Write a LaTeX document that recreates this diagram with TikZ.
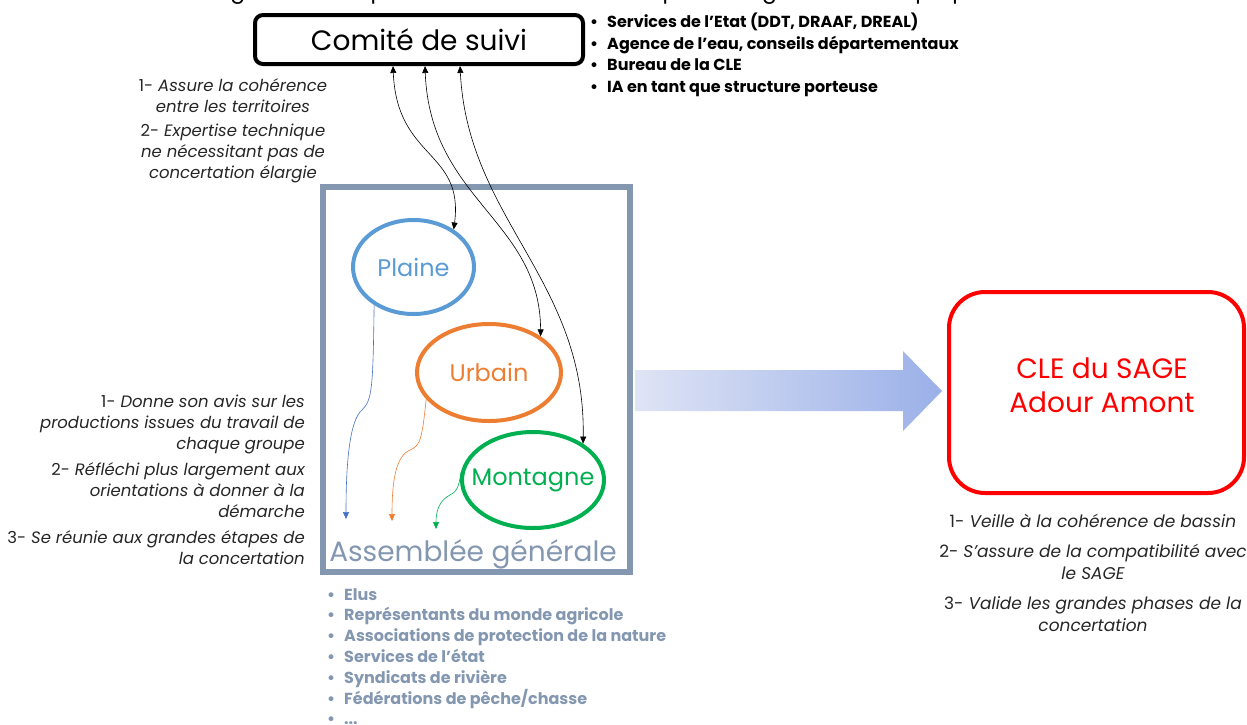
\documentclass[tikz,border=0pt]{standalone}
\usepackage{fontspec}
\setmainfont{Poppins}
\usetikzlibrary{calc,arrows.meta,shapes.geometric}
\definecolor{agblue}{HTML}{8497B0}
\definecolor{plblue}{HTML}{5B9BD5}
\definecolor{plarrow}{HTML}{4472C4}
\definecolor{urorange}{HTML}{ED7D31}
\definecolor{mogreen}{HTML}{00B050}
\definecolor{clered}{HTML}{FF0000}
\definecolor{notegray}{HTML}{262626}
\definecolor{grleft}{HTML}{DFE4F5}
\definecolor{grright}{HTML}{9AB0E8}
\tikzset{
  tip/.style={-{Triangle[length=7pt,width=6pt]}},
  dtip/.style={{Triangle[length=7pt,width=6pt]}-{Triangle[length=7pt,width=6pt]}},
  groupe/.style={ellipse,draw,line width=4pt,inner sep=0pt},
  grouplbl/.style={inner sep=0pt,font=\fontsize{24}{28}\selectfont},
  note/.style={inner sep=0pt,text=notegray,font=\fontsize{16.5}{21}\selectfont\itshape},
  liste/.style={inner sep=0pt,align=left,font=\fontsize{16}{21.5}\selectfont\bfseries},
}
\begin{document}
\begin{tikzpicture}[x=1pt,y=-1pt]
\useasboundingbox (0,0) rectangle (1247,724);
\clip (0,0) rectangle (1247,724);

% cut-off title
\node[anchor=base,inner sep=0pt,font=\fontsize{22}{26}\selectfont] (titre) at (617,-2) {Figure 1 : Exemple de structure schématique de la gouvernance proposée};

% Comite de suivi
\node[draw,line width=4pt,rounded corners=8pt,minimum width=328pt,minimum height=49pt,inner sep=0pt,font=\fontsize{28}{32}\selectfont] (comite) at (419,39.5) {Comité de suivi};

\node[liste,anchor=north west] (membres) at (590,13) {%
\textbullet\hspace{9pt}Services de l'Etat (DDT, DRAAF, DREAL)\\
\textbullet\hspace{9pt}Agence de l'eau, conseils départementaux\\
\textbullet\hspace{9pt}Bureau de la CLE\\
\textbullet\hspace{9pt}IA en tant que structure porteuse};

\node[note,align=center,anchor=north] (rolecs) at (233,78) {%
{\upshape 1-} Assure la cohérence\\ entre les territoires\\[3pt]
{\upshape 2-} Expertise technique\\ ne nécessitant pas de\\ concertation élargie};

% Assemblee generale
\node[draw=agblue,line width=6pt,minimum width=307pt,minimum height=385pt,inner sep=0pt] (ag) at (476.5,379.5) {};
\node[text=agblue,inner sep=0pt,anchor=base,font=\fontsize{28}{30}\selectfont] (agtxt) at (473,561) {Assemblée générale};

\node[groupe,draw=plblue,minimum width=121pt,minimum height=94pt] (plaine) at (413.5,267) {};
\node[grouplbl,text=plblue] (plainelbl) at (plaine.center) {Plaine};
\node[groupe,draw=urorange,minimum width=144pt,minimum height=97pt] (urbain) at (489,372.5) {};
\node[grouplbl,text=urorange] (urbainlbl) at (urbain.center) {Urbain};
\node[groupe,draw=mogreen,minimum width=142pt,minimum height=96pt] (montagne) at (533,480) {};
\node[grouplbl,text=mogreen] (montagnelbl) at (montagne.center) {Montagne};

% links comite <-> groups
\draw[dtip,line width=0.6pt] ($(comite.south)+(-26,0)$) .. controls (397,160) and (464,150) .. (plaine.43);
\draw[dtip,line width=0.6pt] ($(comite.south)+(6,0)$) .. controls (430,200) and (540,220) .. (urbain.35);
\draw[dtip,line width=0.6pt] ($(comite.south)+(41,0)$) .. controls (468,220) and (586,280) .. (montagne.36);

% groups -> assemblee
\coordinate (pfin) at (346,519);
\coordinate (ufin) at (392,521);
\coordinate (mfin) at (436,529);
\draw[tip,plarrow,line width=0.6pt] (plaine.224) .. controls (373,390) and (372,400) .. (362,410) .. controls (350,420) and (346,460) .. (pfin);
\draw[tip,urorange,line width=0.6pt] (urbain.203) .. controls (422,440) and (420,446) .. (410,450) .. controls (396,456) and (392,480) .. (ufin);
\draw[tip,mogreen,line width=0.6pt] (montagne.174) .. controls (459,488) and (456,492) .. (450,495) .. controls (440,500) and (436,510) .. (mfin);

\node[note,align=right,anchor=north east] (roleag) at (305,395) {%
{\upshape 1-} Donne son avis sur les\\ productions issues du travail de\\ chaque groupe\\[5pt]
{\upshape 2-} Réfléchi plus largement aux\\ orientations à donner à la\\ démarche\\[5pt]
{\upshape 3-} Se réunie aux grandes étapes de\\ la concertation};

\node[liste,text=agblue,anchor=north west,font=\fontsize{16}{20.8}\selectfont\bfseries] (acteurs) at (327,588) {%
\textbullet\hspace{9pt}Elus\\
\textbullet\hspace{9pt}Représentants du monde agricole\\
\textbullet\hspace{9pt}Associations de protection de la nature\\
\textbullet\hspace{9pt}Services de l'état\\
\textbullet\hspace{9pt}Syndicats de rivière\\
\textbullet\hspace{9pt}Fédérations de pêche/chasse\\
\textbullet\hspace{9pt}...};

% big arrow
\shade[left color=grleft,right color=grright] (635,370) -- (903,370) -- (903,351) -- (942,391) -- (903,431) -- (903,411) -- (635,411) -- cycle;

% CLE
\node[draw=clered,line width=4pt,rounded corners=36pt,minimum width=295pt,minimum height=201pt,inner sep=0pt] (cle) at (1096.5,392.5) {};
\node[text=clered,align=center,inner sep=0pt,font=\fontsize{28}{34}\selectfont] (clelbl) at (1102,385) {CLE du SAGE\\Adour Amont};

\node[note,align=center,anchor=north,font=\fontsize{17}{22}\selectfont\itshape] (rolecle) at (1093,514) {%
{\upshape 1-} Veille à la cohérence de bassin\\[8pt]
{\upshape 2-} S'assure de la compatibilité avec\\ le SAGE\\[8pt]
{\upshape 3-} Valide les grandes phases de la\\ concertation};
\end{tikzpicture}
\end{document}
